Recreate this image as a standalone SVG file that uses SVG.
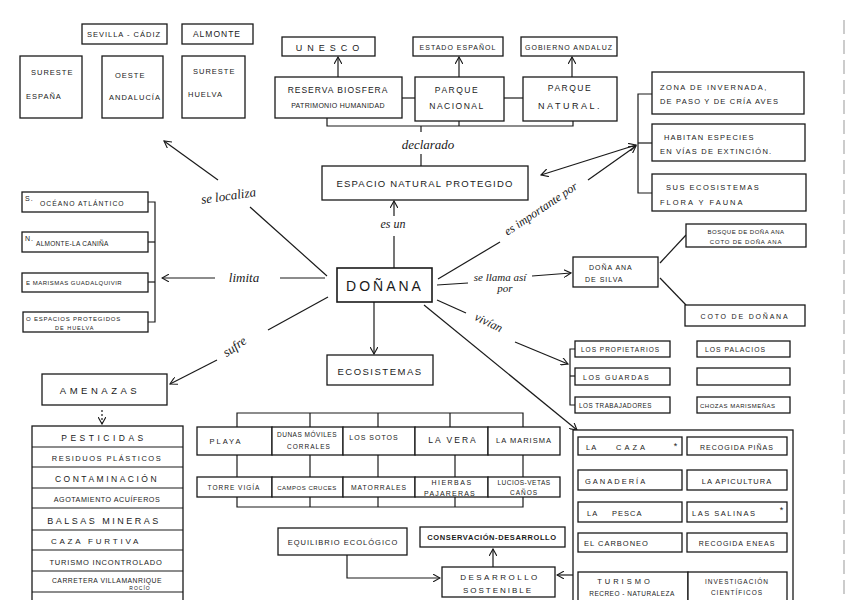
<svg xmlns="http://www.w3.org/2000/svg" width="848" height="600" viewBox="0 0 848 600">
<defs>
<marker id="ar" viewBox="0 0 10 10" refX="9" refY="5" markerWidth="8" markerHeight="8" orient="auto-start-reverse" markerUnits="userSpaceOnUse">
<path d="M0,0 L9,5 L0,10" fill="none" stroke="#1a1a1a" stroke-width="1.4"/>
</marker>
<style>
.b{fill:#fff;stroke:#1a1a1a;stroke-width:1.3}
.l{fill:none;stroke:#1a1a1a;stroke-width:1.2}
.t{font-family:"Liberation Sans",Arial,sans-serif;font-size:8px;fill:#1a1a1a;letter-spacing:1px;text-anchor:middle}
.s{text-anchor:start}
.h{font-family:"Liberation Serif","Times New Roman",serif;font-style:italic;font-size:13px;fill:#1a1a1a;text-anchor:middle}
</style>
</defs>
<rect width="848" height="600" fill="#fff"/>
<line x1="844" y1="20" x2="844" y2="600" stroke="#999" stroke-width="1" stroke-dasharray="14 6"/>

<g id="connectors">
<!-- top -->
<line class="l" x1="338" y1="77" x2="338" y2="57" marker-end="url(#ar)"/>
<line class="l" x1="459" y1="77" x2="459" y2="57" marker-end="url(#ar)"/>
<line class="l" x1="572" y1="77" x2="572" y2="57" marker-end="url(#ar)"/>
<line class="l" x1="402" y1="98" x2="415" y2="98"/>
<line class="l" x1="504" y1="98" x2="523" y2="98"/>
<polyline class="l" points="327,118 327,126 573,126 573,121"/>
<line class="l" x1="459" y1="121" x2="459" y2="126"/>
<line class="l" x1="421" y1="126" x2="421" y2="132"/>
<line class="l" x1="421" y1="154" x2="421" y2="166"/>
<!-- es un -->
<line class="l" x1="394" y1="268" x2="394" y2="236"/>
<line class="l" x1="394" y1="216" x2="394" y2="201" marker-end="url(#ar)"/>
<!-- right bracket -->
<polyline class="l" points="652,94 638,94 638,193 652,193"/>
<line class="l" x1="638" y1="143" x2="652" y2="143"/>
<line class="l" x1="438" y1="279" x2="500" y2="242"/>
<line class="l" x1="588" y1="180" x2="636" y2="146" marker-end="url(#ar)"/>
<line class="l" x1="541" y1="175" x2="636" y2="145" marker-start="url(#ar)" marker-end="url(#ar)"/>
<!-- se llama -->
<line class="l" x1="437" y1="285" x2="468" y2="283"/>
<line class="l" x1="532" y1="276" x2="571" y2="273" marker-end="url(#ar)"/>
<line class="l" x1="660" y1="263" x2="686" y2="235"/>
<line class="l" x1="660" y1="278" x2="686" y2="305"/>
<!-- vivian -->
<line class="l" x1="437" y1="300" x2="466" y2="313"/>
<line class="l" x1="515" y1="342" x2="568" y2="364" marker-end="url(#ar)"/>
<polyline class="l" points="575,349 570,349 570,405 575,405"/>
<line class="l" x1="570" y1="376" x2="575" y2="376"/>
<line class="l" x1="424" y1="305" x2="577" y2="430" marker-end="url(#ar)"/>
<!-- ecosistemas -->
<line class="l" x1="374" y1="302" x2="374" y2="354" marker-end="url(#ar)"/>
<polyline class="l" points="237,427 237,413 523,413 523,427"/>
<line class="l" x1="310" y1="413" x2="310" y2="427"/>
<line class="l" x1="378" y1="413" x2="378" y2="427"/>
<line class="l" x1="450" y1="413" x2="450" y2="427"/>
<line class="l" x1="237" y1="455" x2="237" y2="477"/>
<line class="l" x1="310" y1="455" x2="310" y2="477"/>
<line class="l" x1="378" y1="455" x2="378" y2="477"/>
<line class="l" x1="455" y1="455" x2="455" y2="477"/>
<line class="l" x1="523" y1="455" x2="523" y2="477"/>
<polyline class="l" points="237,497 237,507 523,507 523,497"/>
<line class="l" x1="310" y1="497" x2="310" y2="507"/>
<line class="l" x1="378" y1="497" x2="378" y2="507"/>
<line class="l" x1="455" y1="497" x2="455" y2="507"/>
<!-- desarrollo -->
<line class="l" x1="493" y1="567" x2="493" y2="549" marker-end="url(#ar)"/>
<polyline class="l" points="347,555 347,578 440,578" marker-end="url(#ar)"/>
<line class="l" x1="573" y1="575" x2="557" y2="575" marker-end="url(#ar)"/>
<!-- limita -->
<line class="l" x1="215" y1="278" x2="162" y2="278" marker-end="url(#ar)"/>
<line class="l" x1="280" y1="278" x2="325" y2="278"/>
<polyline class="l" points="148,202 155,202 155,322 148,322"/>
<line class="l" x1="148" y1="242" x2="155" y2="242"/>
<line class="l" x1="148" y1="282" x2="155" y2="282"/>
<!-- se localiza -->
<line class="l" x1="327" y1="276" x2="250" y2="207"/>
<line class="l" x1="218" y1="180" x2="164" y2="141" marker-end="url(#ar)"/>
<!-- sufre -->
<line class="l" x1="328" y1="297" x2="268" y2="330"/>
<line class="l" x1="217" y1="360" x2="170" y2="384" marker-end="url(#ar)"/>
<line class="l" x1="102" y1="410" x2="102" y2="424" stroke-dasharray="2 2" marker-end="url(#ar)"/>
<!-- labels -->
<text class="h" x="428" y="149">declarado</text>
<text class="h" x="393" y="228" style="font-size:12px">es un</text>
<text class="h" transform="translate(543,212) rotate(-34)" style="font-size:12px">es importante por</text>
<text class="h" x="500" y="281" style="font-size:11px">se llama así</text>
<text class="h" x="505" y="292" style="font-size:11px">por</text>
<text class="h" transform="translate(487,326) rotate(26)" style="font-size:12px">vivían</text>
<text class="h" x="244" y="282">limita</text>
<text class="h" transform="translate(229,200) rotate(-8)">se localiza</text>
<text class="h" transform="translate(237,350) rotate(-35)">sufre</text>
</g>

<g id="sevilla"><rect class="b" x="82" y="24" width="85" height="20"/><text class="t" x="124" y="37" style="font-size:7.5px">SEVILLA - CÁDIZ</text></g>
<g id="almonte"><rect class="b" x="182" y="24" width="71" height="20"/><text class="t" x="217" y="37" style="font-size:8.5px">ALMONTE</text></g>
<g id="sureste-espana"><rect class="b" x="20" y="56" width="62" height="62"/><text class="t s" x="31" y="75" style="font-size:7.5px">SURESTE</text><text class="t s" x="26" y="99" style="font-size:7.5px">ESPAÑA</text></g>
<g id="oeste-andalucia"><rect class="b" x="102" y="56" width="61" height="62"/><text class="t s" x="115" y="78" style="font-size:7.5px">OESTE</text><text class="t s" x="109" y="100" style="font-size:7.5px">ANDALUCÍA</text></g>
<g id="sureste-huelva"><rect class="b" x="182" y="56" width="63" height="62"/><text class="t s" x="193" y="74" style="font-size:7.5px">SURESTE</text><text class="t s" x="188" y="97" style="font-size:7.5px">HUELVA</text></g>

<g id="unesco"><rect class="b" x="282" y="37" width="93" height="19"/><text class="t" x="330" y="51" style="font-size:9px;letter-spacing:5px">UNESCO</text></g>
<g id="estado"><rect class="b" x="413" y="37" width="90" height="19"/><text class="t" x="458" y="50" style="font-size:7px">ESTADO ESPAÑOL</text></g>
<g id="gobierno"><rect class="b" x="521" y="37" width="96" height="19"/><text class="t" x="569" y="50" style="font-size:7px">GOBIERNO ANDALUZ</text></g>
<g id="reserva"><rect class="b" x="275" y="77" width="127" height="41"/><text class="t" x="338" y="93" style="font-size:8.5px">RESERVA BIOSFERA</text><text class="t" x="338" y="108" style="font-size:7px;letter-spacing:0.3px">PATRIMONIO HUMANIDAD</text></g>
<g id="parque-nacional"><rect class="b" x="415" y="77" width="89" height="44"/><text class="t" x="457" y="93" style="font-size:8.5px;letter-spacing:1.5px">PARQUE</text><text class="t" x="457" y="109" style="font-size:8.5px;letter-spacing:1.5px">NACIONAL</text></g>
<g id="parque-natural"><rect class="b" x="523" y="77" width="94" height="44"/><text class="t" x="570" y="91" style="font-size:8.5px;letter-spacing:1.5px">PARQUE</text><text class="t" x="570" y="109" style="font-size:9px;letter-spacing:2.5px">NATURAL.</text></g>

<g id="enp"><rect class="b" x="322" y="166" width="206" height="34"/><text class="t" x="425" y="187" style="font-size:9.5px;letter-spacing:1.2px">ESPACIO NATURAL PROTEGIDO</text></g>
<g id="donana"><rect class="b" x="337" y="268" width="95" height="34" style="stroke-width:1.6"/><text class="t" x="385" y="291" style="font-size:14px;letter-spacing:3px">DOÑANA</text></g>

<g id="zona"><rect class="b" x="652" y="72" width="152" height="42"/><text class="t s" x="660" y="90" style="font-size:7.5px;letter-spacing:1.5px">ZONA DE INVERNADA,</text><text class="t s" x="660" y="104" style="font-size:7.5px;letter-spacing:1.2px">DE PASO Y DE CRÍA AVES</text></g>
<g id="habitan"><rect class="b" x="652" y="124" width="153" height="37"/><text class="t s" x="664" y="140" style="font-size:7.5px;letter-spacing:1.2px">HABITAN ESPECIES</text><text class="t s" x="660" y="154" style="font-size:7.5px;letter-spacing:1.2px">EN VÍAS DE EXTINCIÓN.</text></g>
<g id="sus"><rect class="b" x="652" y="174" width="154" height="37"/><text class="t s" x="666" y="190" style="font-size:7.5px;letter-spacing:1.5px">SUS ECOSISTEMAS</text><text class="t s" x="660" y="205" style="font-size:7.5px;letter-spacing:2px">FLORA Y FAUNA</text></g>

<g id="dona-ana"><rect class="b" x="573" y="257" width="85" height="30"/><text class="t s" x="589" y="270" style="font-size:7px">DOÑA ANA</text><text class="t s" x="585" y="282" style="font-size:7px">DE SILVA</text></g>
<g id="bosque"><rect class="b" x="686" y="224" width="120" height="23"/><text class="t" x="746" y="234" style="font-size:6px;letter-spacing:0.5px">BOSQUE DE DOÑA ANA</text><text class="t" x="746" y="244" style="font-size:6px;letter-spacing:0.8px">COTO DE DOÑA ANA</text></g>
<g id="coto"><rect class="b" x="685" y="305" width="120" height="21"/><text class="t" x="745" y="319" style="font-size:7px;letter-spacing:1.8px">COTO DE DOÑANA</text></g>

<g id="propietarios"><rect class="b" x="575" y="341" width="95" height="16"/><text class="t s" x="581" y="352" style="font-size:6.5px">LOS PROPIETARIOS</text></g>
<g id="guardas"><rect class="b" x="575" y="368" width="95" height="17"/><text class="t s" x="583" y="380" style="font-size:7px;letter-spacing:1.5px">LOS GUARDAS</text></g>
<g id="trabajadores"><rect class="b" x="575" y="397" width="95" height="16"/><text class="t s" x="579" y="408" style="font-size:6.3px;letter-spacing:0.5px">LOS TRABAJADORES</text></g>
<g id="palacios"><rect class="b" x="697" y="341" width="93" height="16"/><text class="t s" x="705" y="352" style="font-size:6.8px">LOS PALACIOS</text></g>
<g id="vacio"><rect class="b" x="697" y="368" width="93" height="17"/></g>
<g id="chozas"><rect class="b" x="697" y="397" width="93" height="16"/><text class="t s" x="700" y="408" style="font-size:6px;letter-spacing:0.5px">CHOZAS MARISMEÑAS</text></g>

<g id="ecosistemas"><rect class="b" x="327" y="355" width="106" height="30"/><text class="t" x="380" y="375" style="font-size:9.5px;letter-spacing:1.5px">ECOSISTEMAS</text></g>
<g id="playa"><rect class="b" x="197" y="427" width="75" height="28"/><text class="t" x="226" y="444" style="font-size:7.5px;letter-spacing:2px">PLAYA</text></g>
<g id="dunas"><rect class="b" x="272" y="427" width="71" height="28"/><text class="t" x="307" y="437" style="font-size:6.5px;letter-spacing:0.5px">DUNAS MÓVILES</text><text class="t" x="309" y="449" style="font-size:6.5px">CORRALES</text></g>
<g id="sotos"><rect class="b" x="343" y="427" width="72" height="28"/><text class="t" x="374" y="440" style="font-size:7px">LOS SOTOS</text></g>
<g id="vera"><rect class="b" x="415" y="427" width="73" height="28"/><text class="t" x="453" y="443" style="font-size:8.5px;letter-spacing:2px">LA VERA</text></g>
<g id="marisma"><rect class="b" x="488" y="427" width="72" height="28"/><text class="t" x="524" y="443" style="font-size:7.5px">LA MARISMA</text></g>
<g id="torre"><rect class="b" x="197" y="477" width="75" height="20"/><text class="t" x="234" y="490" style="font-size:6.5px">TORRE VIGÍA</text></g>
<g id="campos"><rect class="b" x="272" y="477" width="71" height="20"/><text class="t" x="307" y="490" style="font-size:6px;letter-spacing:0.5px">CAMPOS CRUCES</text></g>
<g id="matorrales"><rect class="b" x="343" y="477" width="72" height="20"/><text class="t" x="379" y="490" style="font-size:6.8px">MATORRALES</text></g>
<g id="hierbas"><rect class="b" x="415" y="477" width="73" height="20"/><text class="t" x="452" y="485" style="font-size:7px;letter-spacing:1.5px">HIERBAS</text><text class="t" x="450" y="496" style="font-size:7px;letter-spacing:1.2px">PAJARERAS</text></g>
<g id="lucios"><rect class="b" x="488" y="477" width="72" height="20"/><text class="t" x="524" y="485" style="font-size:6.5px;letter-spacing:0.5px">LUCIOS-VETAS</text><text class="t" x="524" y="495" style="font-size:6.5px">CAÑOS</text></g>

<g id="equilibrio"><rect class="b" x="278" y="528" width="129" height="27"/><text class="t" x="343" y="545" style="font-size:7.5px">EQUILIBRIO ECOLÓGICO</text></g>
<g id="conservacion"><rect class="b" x="420" y="527" width="145" height="20"/><text class="t" x="492" y="540" style="font-size:7.5px;font-weight:bold;letter-spacing:0.6px">CONSERVACIÓN-DESARROLLO</text></g>
<g id="desarrollo"><rect class="b" x="442" y="567" width="113" height="30"/><text class="t" x="500" y="580" style="font-size:8px;letter-spacing:2.5px">DESARROLLO</text><text class="t" x="498" y="593" style="font-size:8px;letter-spacing:2px">SOSTENIBLE</text></g>

<g id="actividades">
<rect class="b" x="573" y="430" width="220" height="175"/>
<rect class="b" x="578" y="437" width="104" height="18"/><text class="t s" x="586" y="450" style="font-size:7.5px">LA</text><text class="t s" x="616" y="450" style="font-size:7.5px;letter-spacing:3px">CAZA</text><text class="t" x="676" y="449" style="font-size:9px">*</text>
<rect class="b" x="687" y="437" width="100" height="18"/><text class="t" x="737" y="450" style="font-size:7px">RECOGIDA PIÑAS</text>
<rect class="b" x="578" y="470" width="104" height="20"/><text class="t s" x="585" y="484" style="font-size:7.5px;letter-spacing:2px">GANADERÍA</text>
<rect class="b" x="687" y="470" width="100" height="20"/><text class="t" x="737" y="484" style="font-size:7.5px">LA APICULTURA</text>
<rect class="b" x="578" y="502" width="104" height="20"/><text class="t s" x="587" y="516" style="font-size:7.5px">LA</text><text class="t s" x="612" y="516" style="font-size:7.5px">PESCA</text>
<rect class="b" x="687" y="502" width="100" height="20"/><text class="t s" x="692" y="516" style="font-size:7.5px;letter-spacing:1.5px">LAS SALINAS</text><text class="t" x="782" y="513" style="font-size:9px">*</text>
<rect class="b" x="578" y="533" width="104" height="19"/><text class="t s" x="584" y="546" style="font-size:7.5px">EL CARBONEO</text>
<rect class="b" x="687" y="533" width="100" height="19"/><text class="t" x="737" y="546" style="font-size:7px">RECOGIDA ENEAS</text>
<rect class="b" x="578" y="572" width="110" height="32"/><text class="t" x="625" y="584" style="font-size:7.5px;letter-spacing:3px">TURISMO</text><text class="t" x="632" y="596" style="font-size:6.5px;letter-spacing:0.5px">RECREO - NATURALEZA</text>
<rect class="b" x="688" y="572" width="99" height="32"/><text class="t" x="737" y="584" style="font-size:6.5px">INVESTIGACIÓN</text><text class="t" x="737" y="595" style="font-size:6.5px">CIENTÍFICOS</text>
</g>

<g id="oceano"><rect class="b" x="22" y="192" width="126" height="20"/><text class="t s" x="25" y="201" style="font-size:7px">S.</text><text class="t s" x="40" y="206" style="font-size:6.8px">OCÉANO ATLÁNTICO</text></g>
<g id="almonte-n"><rect class="b" x="22" y="232" width="126" height="20"/><text class="t s" x="25" y="241" style="font-size:7px">N.</text><text class="t s" x="36" y="246" style="font-size:6.5px;letter-spacing:0.3px">ALMONTE-LA CANIÑA</text></g>
<g id="marismas"><rect class="b" x="22" y="273" width="126" height="19"/><text class="t s" x="26" y="285" style="font-size:6px;letter-spacing:0.5px">E MARISMAS GUADALQUIVIR</text></g>
<g id="espacios"><rect class="b" x="23" y="312" width="125" height="20"/><text class="t s" x="26" y="321" style="font-size:6px;letter-spacing:0.8px">O ESPACIOS PROTEGIDOS</text><text class="t s" x="55" y="330" style="font-size:5.5px">DE HUELVA</text></g>

<g id="amenazas"><rect class="b" x="42" y="374" width="125" height="31"/><text class="t" x="100" y="394" style="font-size:9.5px;letter-spacing:3.5px">AMENAZAS</text></g>
<g id="lista-amenazas">
<rect class="b" x="32" y="426" width="151" height="180"/>
<line class="l" x1="32" y1="447" x2="183" y2="447"/>
<line class="l" x1="32" y1="467" x2="183" y2="467"/>
<line class="l" x1="32" y1="488" x2="183" y2="488"/>
<line class="l" x1="32" y1="508" x2="183" y2="508"/>
<line class="l" x1="32" y1="530" x2="183" y2="530"/>
<line class="l" x1="32" y1="550" x2="183" y2="550"/>
<line class="l" x1="32" y1="571" x2="183" y2="571"/>
<line class="l" x1="32" y1="592" x2="183" y2="592"/>
<text class="t" x="104" y="441" style="font-size:8.5px;letter-spacing:3.5px">PESTICIDAS</text>
<text class="t" x="107" y="461" style="font-size:7.5px;letter-spacing:1.5px">RESIDUOS PLÁSTICOS</text>
<text class="t" x="107" y="482" style="font-size:8.5px;letter-spacing:2.5px">CONTAMINACIÓN</text>
<text class="t" x="107" y="502" style="font-size:7.2px;letter-spacing:0.5px">AGOTAMIENTO ACUÍFEROS</text>
<text class="t" x="104" y="524" style="font-size:9px;letter-spacing:2.5px">BALSAS MINERAS</text>
<text class="t" x="96" y="544" style="font-size:8px;letter-spacing:2.8px">CAZA FURTIVA</text>
<text class="t" x="106" y="565" style="font-size:7.5px;letter-spacing:0.8px">TURISMO INCONTROLADO</text>
<text class="t" x="107" y="583" style="font-size:6.8px;letter-spacing:0.5px">CARRETERA VILLAMANRIQUE</text>
<text class="t" x="140" y="590" style="font-size:5px">ROCÍO</text>
</g>
</svg>
